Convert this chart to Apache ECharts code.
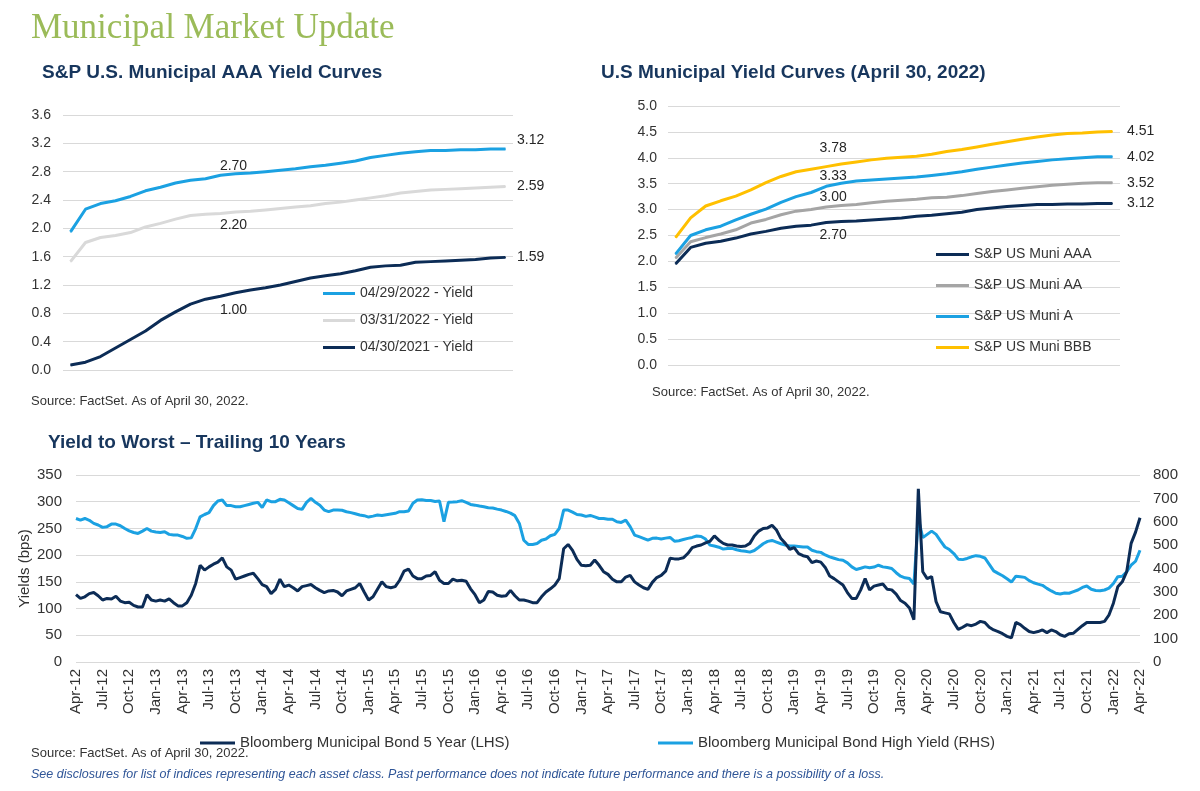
<!DOCTYPE html>
<html><head><meta charset="utf-8">
<script src="https://cdn.jsdelivr.net/npm/echarts@6/dist/echarts.min.js"></script>
<style>html,body{margin:0;padding:0;background:#fff}#c{width:1200px;height:791px}</style>
</head><body><div id="c"></div>
<script>
// ---------- Chart 1: S&P U.S. Municipal AAA Yield Curves ----------
const maturities = [1,2,3,4,5,6,7,8,9,10,11,12,13,14,15,16,17,18,19,20,21,22,23,24,25,26,27,28,29,30];
const aaaCurveNames = ['04/29/2022 - Yield', '03/31/2022 - Yield', '04/30/2021 - Yield'];
const aaa20220429 = [1.95,2.27,2.35,2.39,2.45,2.53,2.58,2.64,2.68,2.70,2.75,2.77,2.78,2.80,2.82,2.84,2.87,2.89,2.92,2.95,3.00,3.03,3.06,3.08,3.10,3.10,3.11,3.11,3.12,3.12];
const aaa20220331 = [1.53,1.80,1.87,1.90,1.94,2.02,2.07,2.13,2.18,2.20,2.21,2.23,2.24,2.26,2.28,2.30,2.32,2.35,2.37,2.40,2.43,2.46,2.50,2.52,2.54,2.55,2.56,2.57,2.58,2.59];
const aaa20210430 = [0.07,0.11,0.19,0.31,0.43,0.55,0.70,0.82,0.93,1.00,1.04,1.09,1.13,1.16,1.20,1.25,1.30,1.33,1.36,1.40,1.45,1.47,1.48,1.52,1.53,1.54,1.55,1.56,1.58,1.59];
const aaaTicks = [0.0,0.4,0.8,1.2,1.6,2.0,2.4,2.8,3.2,3.6];

// ---------- Chart 2: U.S Municipal Yield Curves (April 30, 2022) ----------
const ratingNames = ['S&P US Muni AAA', 'S&P US Muni AA', 'S&P US Muni A', 'S&P US Muni BBB'];
const muniAAA = aaa20220429;
const muniAA  = [2.06,2.38,2.46,2.53,2.61,2.74,2.81,2.90,2.97,3.00,3.05,3.08,3.10,3.13,3.16,3.18,3.20,3.23,3.24,3.27,3.31,3.35,3.38,3.41,3.44,3.47,3.49,3.51,3.52,3.52];
const muniA   = [2.14,2.50,2.61,2.68,2.80,2.91,3.01,3.14,3.25,3.33,3.45,3.51,3.55,3.57,3.59,3.61,3.63,3.66,3.69,3.73,3.78,3.82,3.86,3.90,3.93,3.96,3.98,4.00,4.02,4.02];
const muniBBB = [2.46,2.84,3.07,3.17,3.26,3.38,3.52,3.64,3.73,3.78,3.83,3.88,3.92,3.96,3.99,4.01,4.03,4.07,4.12,4.16,4.21,4.26,4.31,4.36,4.40,4.44,4.47,4.48,4.50,4.51];

// ---------- Chart 3: Yield to Worst – Trailing 10 Years (semi-monthly, Apr-12 .. Apr-22) ----------
const quarterLabels = ['Apr-12','Jul-12','Oct-12','Jan-13','Apr-13','Jul-13','Oct-13','Jan-14','Apr-14','Jul-14','Oct-14','Jan-15','Apr-15','Jul-15','Oct-15','Jan-16','Apr-16','Jul-16','Oct-16','Jan-17','Apr-17','Jul-17','Oct-17','Jan-18','Apr-18','Jul-18','Oct-18','Jan-19','Apr-19','Jul-19','Oct-19','Jan-20','Apr-20','Jul-20','Oct-20','Jan-21','Apr-21','Jul-21','Oct-21','Jan-22','Apr-22'];
const ytwNames = ['Bloomberg Municipal Bond 5 Year (LHS)', 'Bloomberg Municipal Bond High Yield (RHS)'];
const muni5yr = [
 126,119,122,128,130,124,116,119,118,123,114,111,112,106,103,103,126,116,114,116,114,118,111,105,
 105,111,125,147,181,172,178,183,187,195,178,172,155,158,161,164,166,156,145,141,128,136,155,141,
 144,139,133,141,143,145,139,134,130,133,134,131,124,133,136,139,147,131,116,122,136,150,141,139,
 141,153,170,174,161,156,156,161,162,169,153,147,147,155,152,153,151,137,126,111,116,132,131,125,
 123,124,134,124,116,116,114,111,111,122,131,137,144,156,212,220,209,192,181,180,181,191,181,169,
 164,155,150,150,159,162,150,144,139,136,149,158,162,170,194,193,193,195,203,214,217,219,223,226,
 236,228,222,219,219,217,216,217,222,236,245,250,251,256,247,231,222,211,214,203,199,197,186,189,
 187,177,161,156,150,144,130,119,119,135,156,135,142,144,146,136,135,127,115,110,101,79,324,169,
 156,160,113,94,92,90,74,61,65,70,68,71,76,74,65,60,57,53,48,45,74,70,63,57,
 55,57,60,55,60,57,51,48,53,54,61,68,74,74,74,74,76,88,110,141,150,169,222,243,
 270];
const muniHY = [
 614,607,614,606,593,586,576,579,590,590,583,571,561,554,550,560,571,560,556,554,557,546,543,543,
 537,529,531,571,621,631,639,669,689,693,669,669,664,664,669,674,679,683,661,693,686,686,696,693,
 681,669,657,653,683,700,683,671,650,643,650,650,649,643,639,634,629,626,620,624,629,627,630,633,
 636,643,643,646,679,693,694,691,691,687,689,600,683,684,686,690,683,674,671,667,664,660,659,654,
 650,644,637,626,593,521,503,503,507,521,526,540,546,571,650,650,641,631,629,623,627,621,614,614,
 611,611,600,597,607,579,543,536,529,521,529,530,526,530,533,517,519,524,529,533,539,537,526,500,
 496,491,483,486,486,480,476,474,470,477,491,506,516,520,513,506,500,496,496,494,492,492,478,472,
 469,458,450,444,438,435,424,407,396,401,407,403,406,414,407,404,400,382,367,360,357,333,613,532,
 546,560,546,518,492,481,464,440,438,443,450,455,452,445,418,390,379,369,356,342,367,365,362,348,
 339,333,328,315,304,294,291,295,294,301,308,319,325,311,306,305,308,316,336,365,367,386,414,431,
 478];

// ---------- styling ----------
const FONT = '"Liberation Sans", Arial, sans-serif';
const NAVY = '#0C2C56', SKY = '#1BA1E2', LGREY = '#D9D9D9', MGREY = '#A5A5A5', GOLD = '#FFC000';
const TXT = '#333333', TITLE = '#17365D';

// build categories for the 10-year chart: 6 half-month points per quarter
const ytwCats = [];
quarterLabels.forEach((q, qi) => {
  for (let h = 0; h < 6; h++) {
    if (qi === quarterLabels.length - 1 && h > 0) break;
    ytwCats.push(h === 0 ? q : q + '#' + h);
  }
});

const lblBase = {show: true, color: '#262626', fontSize: 14, fontFamily: FONT,
  formatter: p => (typeof p.value === 'number' ? p.value : +p.value).toFixed(2)};
function withLabels(arr, specs) {
  return arr.map((v, i) => specs[i] ? {value: v, label: Object.assign({}, lblBase, specs[i])} : v);
}
const endLbl = d => ({position: 'right', distance: d});

function lineSeries(name, data, color, xi, yi, withSym) {
  return {
    name, type: 'line', data, xAxisIndex: xi, yAxisIndex: yi,
    showSymbol: !!withSym, showAllSymbol: true, symbol: withSym ? 'circle' : 'none', symbolSize: withSym ? 1 : 0,
    smooth: false,
    lineStyle: {color, width: 3}, itemStyle: {color},
    label: {show: false},
    emphasis: {disabled: true}, z: 3
  };
}

const axisLbl = {color: TXT, fontSize: 14, fontFamily: FONT};
const split = {show: true, lineStyle: {color: LGREY, width: 1}};
const legText = {color: TXT, fontSize: 14, fontFamily: FONT, lineHeight: 17};

const option = {
  animation: false,
  backgroundColor: '#ffffff',
  textStyle: {fontFamily: FONT},
  grid: [
    {left: 63, top: 115, width: 450, height: 255, outerBoundsMode: 'none'},
    {left: 668, top: 106, width: 452, height: 259, outerBoundsMode: 'none'},
    {left: 76, top: 475, width: 1064, height: 187, outerBoundsMode: 'none'}
  ],
  xAxis: [
    {type: 'category', gridIndex: 0, data: maturities, boundaryGap: true, show: false},
    {type: 'category', gridIndex: 1, data: maturities, boundaryGap: true, show: false},
    {type: 'category', gridIndex: 2, data: ytwCats, boundaryGap: false,
     axisLine: {show: false}, axisTick: {show: false}, splitLine: {show: false},
     axisLabel: {color: TXT, fontSize: 15, fontFamily: FONT, rotate: 90, margin: 7,
       interval: (i) => i % 6 === 0, formatter: (v) => v.split('#')[0]}}
  ],
  yAxis: [
    {type: 'value', gridIndex: 0, min: aaaTicks[0], max: aaaTicks[aaaTicks.length - 1], interval: 0.4,
     axisLine: {show: false}, axisTick: {show: false}, splitLine: split,
     axisLabel: Object.assign({margin: 12, formatter: v => v.toFixed(1)}, axisLbl)},
    {type: 'value', gridIndex: 1, min: 0, max: 5, interval: 0.5,
     axisLine: {show: false}, axisTick: {show: false}, splitLine: split,
     axisLabel: Object.assign({margin: 11, formatter: v => v.toFixed(1)}, axisLbl)},
    {type: 'value', gridIndex: 2, min: 0, max: 350, interval: 50,
     name: 'Yields (bps)', nameLocation: 'middle', nameGap: 44, nameRotate: 90, nameMoveOverlap: false,
     nameTextStyle: {color: TXT, fontSize: 15, fontFamily: FONT},
     axisLine: {show: false}, axisTick: {show: false}, splitLine: split,
     axisLabel: Object.assign({margin: 14}, axisLbl, {fontSize: 15})},
    {type: 'value', gridIndex: 2, min: 0, max: 800, interval: 100, position: 'right',
     axisLine: {show: false}, axisTick: {show: false}, splitLine: {show: false},
     axisLabel: Object.assign({margin: 13}, axisLbl, {fontSize: 15})}
  ],
  legend: [
    {data: aaaCurveNames, orient: 'vertical', left: 323, top: 285, padding: 0, icon: 'rect',
     itemWidth: 32, itemHeight: 3, itemGap: 10, selectedMode: false, textStyle: legText},
    {data: ratingNames, orient: 'vertical', left: 936, top: 246, padding: 0, icon: 'rect',
     itemWidth: 33, itemHeight: 3, itemGap: 14, selectedMode: false, textStyle: legText},
    {data: [ytwNames[0]], left: 200, top: 734, padding: 0, icon: 'rect', itemWidth: 35, itemHeight: 3, selectedMode: false,
     textStyle: {color: TXT, fontSize: 15, fontFamily: FONT, lineHeight: 18}},
    {data: [ytwNames[1]], left: 658, top: 734, padding: 0, icon: 'rect', itemWidth: 35, itemHeight: 3, selectedMode: false,
     textStyle: {color: TXT, fontSize: 15, fontFamily: FONT, lineHeight: 18}}
  ],
  series: [
    // chart 1
    lineSeries(aaaCurveNames[2], withLabels(aaa20210430, {9: {position: 'bottom', offset: [28, -2]}, 29: endLbl(11)}), NAVY, 0, 0, true),
    lineSeries(aaaCurveNames[1], withLabels(aaa20220331, {9: {position: 'bottom', offset: [28, -2]}, 29: endLbl(11)}), LGREY, 0, 0, true),
    lineSeries(aaaCurveNames[0], withLabels(aaa20220429, {9: {position: 'top', offset: [28, 0]}, 29: Object.assign(endLbl(11), {offset: [0, -9]})}), SKY, 0, 0, true),
    // chart 2
    lineSeries(ratingNames[0], withLabels(muniAAA, {9: {position: 'bottom', offset: [22, -2]}, 29: endLbl(14)}), NAVY, 1, 1, true),
    lineSeries(ratingNames[1], withLabels(muniAA, {9: {position: 'top', offset: [22, 0]}, 29: endLbl(14)}), MGREY, 1, 1, true),
    lineSeries(ratingNames[2], withLabels(muniA, {9: {position: 'top', offset: [22, -4]}, 29: endLbl(14)}), SKY, 1, 1, true),
    lineSeries(ratingNames[3], withLabels(muniBBB, {9: {position: 'top', offset: [22, -9]}, 29: endLbl(14)}), GOLD, 1, 1, true),
    // chart 3
    lineSeries(ytwNames[1], muniHY, SKY, 2, 3, false),
    lineSeries(ytwNames[0], muni5yr, NAVY, 2, 2, false)
  ],
  graphic: [
    {type: 'text', x: 31, y: 29, style: {text: 'Municipal Market Update', font: '35px "Liberation Serif", "DejaVu Serif", serif', fill: '#9BBB59', verticalAlign: 'middle', textVerticalAlign: 'middle'}},
    {type: 'text', x: 42, y: 73, style: {text: 'S&P U.S. Municipal AAA Yield Curves', font: 'bold 19px ' + FONT, fill: TITLE, verticalAlign: 'middle', textVerticalAlign: 'middle'}},
    {type: 'text', x: 601, y: 73, style: {text: 'U.S Municipal Yield Curves (April 30, 2022)', font: 'bold 19px ' + FONT, fill: TITLE, verticalAlign: 'middle', textVerticalAlign: 'middle'}},
    {type: 'text', x: 48, y: 443, style: {text: 'Yield to Worst \u2013 Trailing 10 Years', font: 'bold 19px ' + FONT, fill: TITLE, verticalAlign: 'middle', textVerticalAlign: 'middle'}},
    {type: 'text', x: 31, y: 401, style: {text: 'Source: FactSet. As of April 30, 2022.', font: '13px ' + FONT, fill: TXT, verticalAlign: 'middle', textVerticalAlign: 'middle'}},
    {type: 'text', x: 652, y: 392, style: {text: 'Source: FactSet. As of April 30, 2022.', font: '13px ' + FONT, fill: TXT, verticalAlign: 'middle', textVerticalAlign: 'middle'}},
    {type: 'text', x: 31, y: 753, style: {text: 'Source: FactSet. As of April 30, 2022.', font: '13px ' + FONT, fill: TXT, verticalAlign: 'middle', textVerticalAlign: 'middle'}},
    {type: 'text', x: 31, y: 775, style: {text: 'See disclosures for list of indices representing each asset class. Past performance does not indicate future performance and there is a possibility of a loss.', font: 'italic 12.5px ' + FONT, fill: '#2F5597', verticalAlign: 'middle', textVerticalAlign: 'middle'}}
  ]
};

const chart = echarts.init(document.getElementById('c'), null, {renderer: 'canvas'});
chart.setOption(option);
</script>
</body></html>
